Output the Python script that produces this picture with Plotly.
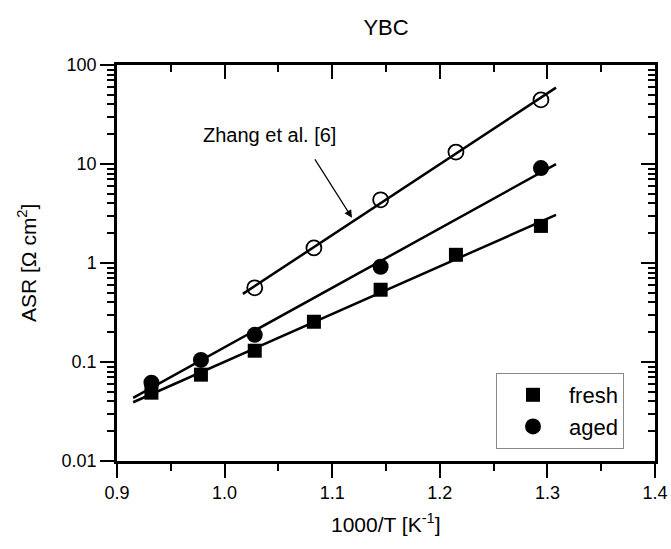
import numpy as np
import plotly.graph_objects as go

# ---- data ----
x_T = [0.932, 0.978, 1.028, 1.083, 1.145, 1.215, 1.294]
fresh_asr = [0.049, 0.0745, 0.130, 0.255, 0.537, 1.21, 2.37]

x_aged = [0.932, 0.978, 1.028, 1.145, 1.294]
aged_asr = [0.0618, 0.105, 0.188, 0.916, 9.1]

x_zhang = [1.028, 1.083, 1.145, 1.215, 1.294]
zhang_asr = [0.562, 1.42, 4.35, 13.2, 44.4]

x_tickvals = [0.9, 1.0, 1.1, 1.2, 1.3, 1.4]
x_ticktext = ["0.9", "1.0", "1.1", "1.2", "1.3", "1.4"]
y_tickvals = [0.01, 0.1, 1, 10, 100]
y_ticktext = ["0.01", "0.1", "1", "10", "100"]

# fit-line extents
fresh_fit_range = [0.915, 1.308]
aged_fit_range = [0.915, 1.308]
zhang_fit_range = [1.017, 1.308]

FONT = "Liberation Sans, Arial, sans-serif"


def fit_line(xs, ys, xr):
    k, b = np.polyfit(np.array(xs), np.log10(np.array(ys)), 1)
    xx = np.array(xr)
    return xx, 10 ** (k * xx + b)


fig = go.Figure()

for xs, ys, xr in [(x_T, fresh_asr, fresh_fit_range),
                   (x_aged, aged_asr, aged_fit_range),
                   (x_zhang, zhang_asr, zhang_fit_range)]:
    lx, ly = fit_line(xs, ys, xr)
    fig.add_trace(go.Scatter(x=lx, y=ly, mode="lines",
                             line=dict(color="black", width=2.5),
                             showlegend=False, hoverinfo="skip"))

fig.add_trace(go.Scatter(x=x_zhang, y=zhang_asr, mode="markers",
                         marker=dict(symbol="circle-open", size=15,
                                     color="black", line=dict(width=1.8, color="black")),
                         showlegend=False))
fig.add_trace(go.Scatter(x=x_T, y=fresh_asr, mode="markers", name="fresh",
                         legendgroup="a",
                         marker=dict(symbol="square", size=14, color="black")))
fig.add_trace(go.Scatter(x=x_aged, y=aged_asr, mode="markers", name="aged",
                         legendgroup="b",
                         marker=dict(symbol="circle", size=16, color="black")))
# helper trace for mirrored axes
fig.add_trace(go.Scatter(x=[], y=[], xaxis="x2", yaxis="y2", showlegend=False))

axis_common = dict(showline=True, linecolor="black", linewidth=2.5, automargin=False,
                   tickcolor="black", tickwidth=2, showgrid=False, zeroline=False)

fig.update_layout(
    width=671, height=549,
    margin=dict(l=117, r=16, t=65, b=88),
    paper_bgcolor="white", plot_bgcolor="white",
    font=dict(family=FONT, color="black"),
    title=dict(text="YBC", x=386 / 671, xanchor="center",
               y=1 - 27 / 549, yanchor="middle", font=dict(size=22)),
    xaxis=dict(range=[0.9, 1.4], tickvals=x_tickvals, ticktext=x_ticktext,
               ticks="outside", ticklen=14,
               minor=dict(dtick=0.05, ticks="outside", ticklen=7, tickwidth=2, tickcolor="black"),
               tickfont=dict(size=18), **axis_common),
    yaxis=dict(type="log", range=[-2, 2], tickvals=y_tickvals, ticktext=y_ticktext,
               ticks="outside", ticklen=14,
               minor=dict(dtick="D1", ticks="outside", ticklen=7, tickwidth=2, tickcolor="black"),
               tickfont=dict(size=18), **axis_common),
    xaxis2=dict(range=[0.9, 1.4], overlaying="x", side="top", matches="x",
                tickvals=x_tickvals, showticklabels=False,
                ticks="inside", ticklen=14,
                minor=dict(dtick=0.05, ticks="inside", ticklen=7, tickwidth=2, tickcolor="black"),
                **axis_common),
    yaxis2=dict(type="log", range=[-2, 2], overlaying="y", side="right", matches="y",
                tickvals=y_tickvals, showticklabels=False,
                ticks="inside", ticklen=14,
                minor=dict(dtick="D1", ticks="inside", ticklen=7, tickwidth=2, tickcolor="black"),
                **axis_common),
    legend=dict(x=(496 - 117) / 538, y=(461 - 373) / 396, xanchor="left", yanchor="top",
                bordercolor="#888888", borderwidth=1, bgcolor="white",
                font=dict(size=22), itemwidth=62, tracegroupgap=0,
                traceorder="grouped"),
)

fig.add_annotation(text="ASR [\u03a9 cm<sup>2</sup>]", xref="paper", yref="paper",
                   x=(27 - 117) / 538, y=0.5, textangle=-90, showarrow=False,
                   xanchor="center", yanchor="middle", font=dict(size=21))
fig.add_annotation(text="1000/T [K<sup>-1</sup>]", xref="paper", yref="paper",
                   x=0.5, y=(461 - 523) / 396, showarrow=False,
                   xanchor="center", yanchor="middle", font=dict(size=21))
fig.add_annotation(text="Zhang et al. [6]", xref="x", yref="y",
                   x=1.042, y=1.29, showarrow=False,
                   xanchor="center", yanchor="middle", font=dict(size=20))
fig.add_annotation(text="", xref="x", yref="y", x=1.1184, y=0.456,
                   ax=-38, ay=-60, showarrow=True, arrowhead=2, arrowsize=1.3,
                   arrowwidth=1.2, arrowcolor="black", standoff=0)

fig.write_html("out.html")
